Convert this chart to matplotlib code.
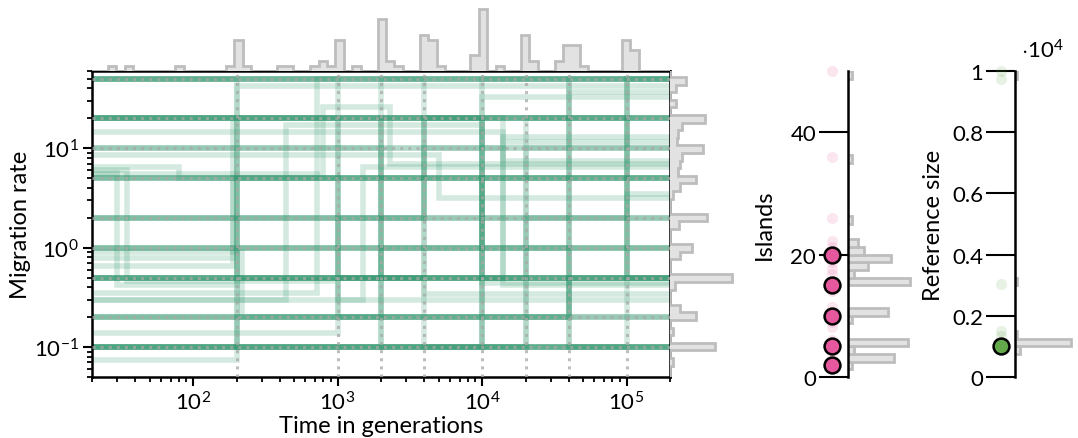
import numpy as np
import matplotlib.pyplot as plt

plt.rcParams['font.family'] = ['Lato', 'DejaVu Sans']
plt.rcParams['mathtext.fontset'] = 'custom'
plt.rcParams['mathtext.rm'] = 'Lato'
plt.rcParams['mathtext.it'] = 'Lato:italic'
plt.rcParams['mathtext.bf'] = 'Lato:bold'
plt.rcParams['font.size'] = 16

# true model parameters (dotted grey lines)
true_times = [200, 1000, 2000, 4000, 10000, 20000, 40000, 100000]
true_rates = [0.1, 0.2, 0.5, 1, 2, 5, 10, 20, 50]

# sampled migration-rate histories: (change times, rate in each epoch)
histories = [
    ([], [0.5]), ([], [0.5]), ([], [0.5]), ([], [0.5]),
    ([], [20]), ([], [20]), ([], [10]), ([], [5]), ([], [5]),
    ([], [1]), ([], [1]), ([], [0.1]), ([], [0.1]), ([], [2]), ([], [50]),
    ([40000], [0.2, 50]), ([40000], [0.2, 0.5]), ([40000], [0.2, 2]),
    ([200], [50, 0.1]), ([200], [0.1, 5]), ([200, 2000], [20, 0.5, 1]),
    ([1000], [50, 0.2]), ([1000], [20, 0.5]), ([1000, 4000], [5, 0.5, 10]),
    ([2000], [0.2, 50]), ([2000], [0.1, 20]), ([2000, 20000], [10, 0.5, 1]),
    ([2000, 10000], [20, 0.1, 5]),
    ([4000], [50, 0.1]), ([4000], [2, 20]), ([4000, 100000], [2, 20, 0.5]),
    ([10000], [0.1, 50]), ([10000], [20, 0.1]), ([10000], [5, 0.5]),
    ([10000, 40000], [20, 1, 0.1]),
    ([20000], [0.1, 20]), ([20000], [1, 10]), ([20000, 100000], [0.1, 2, 50]),
    ([40000], [50, 0.1]),
    ([100000], [0.1, 50]), ([100000], [50, 0.5]),
    ([220], [0.9, 0.2]), ([190], [0.78, 5]), ([190], [0.65, 20]),
    ([30, 200], [5.7, 0.42, 42]), ([35, 1000], [6.0, 0.46, 0.3]),
    ([80], [6.5, 5]), ([1000], [0.14, 2]), ([200], [0.075, 0.2]),
    ([440, 10000], [0.3, 17, 0.44]), ([720], [0.35, 50]),
    ([800, 2300], [5.5, 26, 7]), ([14000], [14.5, 0.42]),
    ([40000], [2, 37]), ([14000], [0.5, 13]), ([10000], [1, 33]),
    ([100000], [0.5, 3.5]), ([14000], [10, 7.4]), ([14000], [20, 11.7]),
    ([4000], [0.5, 0.34]), ([1500], [0.3, 6.5]), ([5000], [8.5, 3.2]),
]

# marginal histogram of change times (log bins, index k -> 10**(2.986 + 0.0583 k))
time_bin_index = [-27, -25, -19, -13, -12, -11, -7, -6, -3, -2, -1, 0, 2, 5, 6, 7,
                  10, 11, 12, 16, 17, 19, 22, 23, 26, 27, 28, 29, 34, 35]
time_bin_count = [1, 1, 1, 1, 6, 1, 1, 1, 1, 2, 1, 6, 1, 10, 2, 1,
                  7, 6, 1, 3, 12, 1, 7, 2, 2, 5, 5, 1, 6, 4]

# marginal histogram of rates (log bins, index k -> 10**(-1.033 + 0.0764 k))
rate_bin_index = [-2, 0, 2, 4, 5, 8, 9, 12, 13, 16, 17, 20, 21, 22, 23, 24, 25,
                  26, 27, 28, 29, 30, 32, 34, 35]
rate_bin_count = [0.6, 8.7, 0.6, 5, 2, 1, 12, 2, 4.2, 1.7, 7.2, 0.6, 2, 5, 1.6, 1.9,
                  2.4, 6.3, 1.4, 1.5, 2.4, 6.7, 1.1, 1.2, 3.1]

# islands
islands_true = [20, 15, 10, 5, 2]
islands_est = [50, 36, 26, 22.2, 21.2, 18.8, 17.6, 16.8, 14, 11.4, 9, 8.2, 6, 4]
islands_bin_lo = [48.75, 35, 25, 21.25, 20, 18.75, 17.5, 16.25, 15, 10, 8.75, 5, 3.75, 2.5, 1.25]
islands_bin_count = [0.8, 0.8, 0.8, 2, 3, 8.3, 3.8, 1.2, 12, 7.7, 0.8, 11.5, 1.2, 8.8, 0.8]

# reference size
ref_true = [1000]
ref_est = [10000, 9740, 3040, 1500, 1350]
ref_bin_lo = [9750, 3000, 1250, 1000, 750]
ref_bin_count = [0.4, 0.4, 0.4, 12, 1]

green = '#2a9468'
pink = '#e5589e'
lgreen = '#63a84a'
hist_fill = '#e2e2e2'
hist_edge = '#bdbdbd'

W, H = 1078, 439
fig = plt.figure(figsize=(W / 100, H / 100), dpi=100)
ax = fig.add_axes([92 / W, 61 / H, 578 / W, 306 / H])
ax_top = fig.add_axes([92 / W, 367 / H, 578 / W, 64 / H], sharex=ax)
ax_right = fig.add_axes([670 / W, 61 / H, 72 / W, 306 / H], sharey=ax)
ax_isl = fig.add_axes([848 / W, 61 / H, 70 / W, 306 / H])
ax_ref = fig.add_axes([1015 / W, 61 / H, 63 / W, 306 / H])

tmin, tmax = 20, 2e5
for times, rates in histories:
    xs = [tmin] + list(times) + [tmax]
    ys = list(rates) + [rates[-1]]
    ax.plot(xs, ys, drawstyle='steps-post', color=green, alpha=0.2, lw=4,
            solid_joinstyle='miter', zorder=2)

for t in true_times:
    ax.axvline(t, color='#a8a8a8', ls=':', lw=2.2, alpha=0.75, zorder=3)
for r in true_rates:
    ax.axhline(r, color='#a8a8a8', ls=':', lw=2.2, alpha=0.75, zorder=3)

ax.set_xscale('log')
ax.set_yscale('log')
ax.set_xlim(tmin, tmax)
ax.set_ylim(0.05, 60)
ax.set_xlabel('Time in generations', fontsize=17)
ax.set_ylabel('Migration rate', fontsize=17)
ax.xaxis.set_label_coords(0.5, -0.125)
ax.yaxis.set_label_coords(-0.105, 0.5)
for s in ax.spines.values():
    s.set_linewidth(1.8)
ax.tick_params(which='major', length=6.5, width=1.5, pad=3)
ax.tick_params(which='minor', length=3.8, width=1.3)

# top histogram of change times
k = np.arange(-30, 40)
t_edges = 10 ** (2.986 + 0.0583 * np.append(k, k[-1] + 1))
t_counts = np.zeros(len(k))
for i, c in zip(time_bin_index, time_bin_count):
    t_counts[i - k[0]] = c
ax_top.stairs(t_counts, t_edges, fill=True, color=hist_fill)
ax_top.stairs(t_counts, t_edges, color=hist_edge, lw=2)
ax_top.set_ylim(0, 12.3)
ax_top.axis('off')

# right histogram of rates
kr = np.arange(-5, 40)
r_edges = 10 ** (-1.033 + 0.0764 * np.append(kr, kr[-1] + 1))
r_counts = np.zeros(len(kr))
for i, c in zip(rate_bin_index, rate_bin_count):
    r_counts[i - kr[0]] = c
ax_right.stairs(r_counts, r_edges, fill=True, color=hist_fill, orientation='horizontal')
ax_right.stairs(r_counts, r_edges, color=hist_edge, lw=2, orientation='horizontal')
ax_right.set_xlim(0, 72 / 5.2)
ax_right.axis('off')
ax.set_ylim(0.05, 60)


def side_panel(a, true_vals, est_vals, bin_lo, bin_w, counts, color, ymax, ticks, labels, ylabel, lab_x):
    a.set_ylim(0, ymax)
    a.set_xlim(0, 70 / 5.2)
    tr = a.get_yaxis_transform()
    a.scatter([-0.23] * len(est_vals), est_vals, s=64, color=color, alpha=0.15, lw=0,
              transform=tr, clip_on=False, zorder=3)
    a.scatter([-0.23] * len(true_vals), true_vals, s=130, color=color, edgecolor='black',
              lw=1.8, transform=tr, clip_on=False, zorder=4)
    lo = np.array(bin_lo)
    for j in np.argsort(lo):
        e = [lo[j], lo[j] + bin_w]
        a.stairs([counts[j]], e, fill=True, color=hist_fill, orientation='horizontal')
        a.stairs([counts[j]], e, color=hist_edge, lw=2, orientation='horizontal')
    for side in ['top', 'right', 'bottom']:
        a.spines[side].set_visible(False)
    a.spines['left'].set_linewidth(1.8)
    a.spines['left'].set_zorder(5)
    a.set_xticks([])
    a.set_yticks(ticks)
    a.set_yticklabels(labels)
    a.tick_params(axis='y', length=21, width=1.5, pad=2)
    a.set_ylabel(ylabel, fontsize=17)
    a.yaxis.set_label_coords(lab_x, 0.5)


side_panel(ax_isl, islands_true, islands_est, islands_bin_lo, 1.25, islands_bin_count,
           pink, 50, [0, 20, 40], ['0', '20', '40'], 'Islands', -1.04)
side_panel(ax_ref, ref_true, ref_est, ref_bin_lo, 250, ref_bin_count,
           lgreen, 10000, [0, 2000, 4000, 6000, 8000, 10000],
           ['0', '0.2', '0.4', '0.6', '0.8', '1'], 'Reference size', -1.13)
ax_ref.text(0.1, 1.03, r'$\cdot10^{4}$', transform=ax_ref.transAxes, ha='left', va='bottom')

fig.savefig('out.png', dpi=100)
